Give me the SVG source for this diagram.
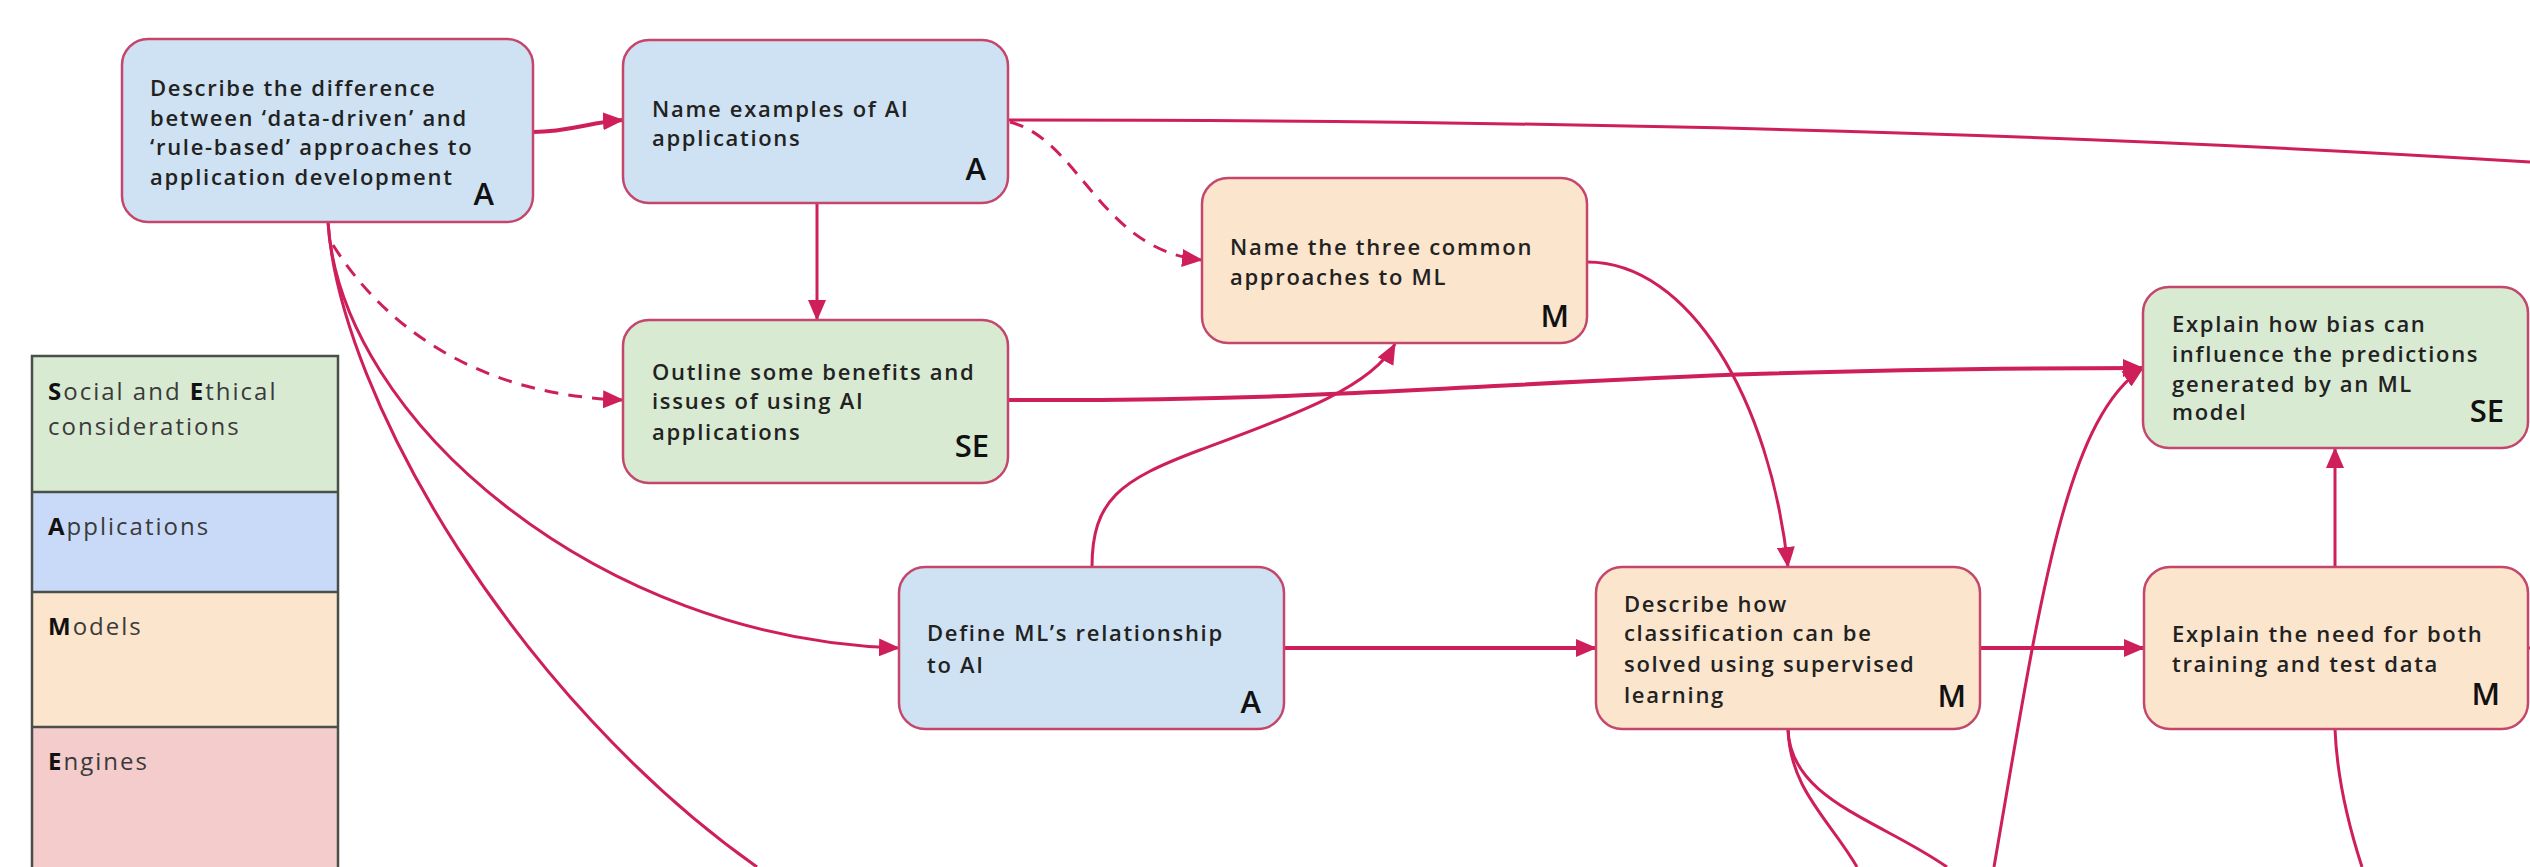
<svg xmlns="http://www.w3.org/2000/svg" width="2530" height="867" viewBox="0 0 2530 867">
<defs>
<marker id="ah" markerUnits="userSpaceOnUse" markerWidth="22" markerHeight="18" refX="20" refY="9" orient="auto">
<path d="M0,0 L21,9 L0,18 Z" fill="#cf1f5a"/>
</marker>
<style>
.node rect{stroke:#c4476b;stroke-width:2.5}
.blue{fill:#cfe2f3}.green{fill:#d9ead3}.orange{fill:#fce5cd}
.t{font-family:"Open Sans","Liberation Sans",sans-serif;font-size:22px;font-weight:600;fill:#222;letter-spacing:1.7px}
.tag{font-family:"Open Sans","Liberation Sans",sans-serif;font-size:31px;font-weight:600;fill:#111;text-anchor:end}
.lg{font-family:"Open Sans","Liberation Sans",sans-serif;font-size:24px;font-weight:400;fill:#3a3a3a;letter-spacing:2px}
.lg tspan.b{font-weight:700;fill:#111}
.c{fill:none;stroke:#cf1f5a;stroke-width:3}
.w{stroke-width:4}
.d{stroke-dasharray:14 10}
</style>
</defs>
<rect width="2530" height="867" fill="#ffffff"/>
<g id="legend">
<rect x="32" y="356" width="306" height="136" fill="#d9ead3"/>
<rect x="32" y="492" width="306" height="100" fill="#c9daf8"/>
<rect x="32" y="592" width="306" height="135" fill="#fce5cd"/>
<rect x="32" y="727" width="306" height="145" fill="#f4cccc"/>
<path d="M32,872 V356 H338 V872 M32,492 H338 M32,592 H338 M32,727 H338" fill="none" stroke="#4a4f4a" stroke-width="2.5"/>
<text class="lg" x="48" y="400"><tspan class="b">S</tspan>ocial and <tspan class="b">E</tspan>thical</text>
<text class="lg" x="48" y="435">considerations</text>
<text class="lg" x="48" y="535"><tspan class="b">A</tspan>pplications</text>
<text class="lg" x="48" y="635"><tspan class="b">M</tspan>odels</text>
<text class="lg" x="48" y="770"><tspan class="b">E</tspan>ngines</text>
</g>
<g id="connectors">
<path class="c w" d="M533,132 C570,132 590,122 623,120" marker-end="url(#ah)"/>
<path class="c" d="M817,203 L817,320" marker-end="url(#ah)"/>
<path class="c d" d="M1010,122 C1080,140 1100,250 1202,260" marker-end="url(#ah)"/>
<path class="c" d="M1008,120 C1600,120 2100,135 2530,162"/>
<path class="c d" d="M333,245 C380,320 470,395 623,400" marker-end="url(#ah)"/>
<path class="c" d="M328,222 C340,420 600,640 899,648" marker-end="url(#ah)"/>
<path class="c" stroke-width="2.5" d="M328,222 C340,400 520,700 757,867"/>
<path class="c w" d="M1008,400 C1450,402 1550,368 2143,368" marker-end="url(#ah)"/>
<path class="c" d="M1092,567 C1092,500 1120,480 1200,450 S1370,390 1395,344" marker-end="url(#ah)"/>
<path class="c" d="M1587,262 C1690,262 1770,400 1788,567" marker-end="url(#ah)"/>
<path class="c w" d="M1284,648 L1596,648" marker-end="url(#ah)"/>
<path class="c w" d="M1980,648 L2144,648" marker-end="url(#ah)"/>
<path class="c" d="M2335,567 L2335,448" marker-end="url(#ah)"/>
<path class="c" d="M1994,867 C2040,600 2065,420 2143,368" marker-end="url(#ah)"/>
<path class="c" d="M1788,729 C1790,790 1830,820 1857,867"/>
<path class="c" d="M1788,729 C1790,800 1880,820 1947,867"/>
<path class="c" d="M2335,729 C2337,780 2350,830 2362,867"/>
<path class="c" d="M2528,648 L2530,648"/>
</g>
<g id="n1" class="node">
<rect class="blue" x="122" y="39" width="411" height="183" rx="26"/>
<text class="t" x="150" y="96">Describe the difference</text>
<text class="t" x="150" y="126">between ‘data-driven’ and</text>
<text class="t" x="150" y="155">‘rule-based’ approaches to</text>
<text class="t" x="150" y="185">application development</text>
<text class="tag" x="494" y="205">A</text>
</g>
<g id="n2" class="node">
<rect class="blue" x="623" y="40" width="385" height="163" rx="26"/>
<text class="t" x="652" y="117">Name examples of AI</text>
<text class="t" x="652" y="146">applications</text>
<text class="tag" x="986" y="180">A</text>
</g>
<g id="n3" class="node">
<rect class="green" x="623" y="320" width="385" height="163" rx="26"/>
<text class="t" x="652" y="380">Outline some benefits and</text>
<text class="t" x="652" y="409">issues of using AI</text>
<text class="t" x="652" y="440">applications</text>
<text class="tag" x="989" y="457">SE</text>
</g>
<g id="n4" class="node">
<rect class="orange" x="1202" y="178" width="385" height="165" rx="26"/>
<text class="t" x="1230" y="255">Name the three common</text>
<text class="t" x="1230" y="285">approaches to ML</text>
<text class="tag" x="1569" y="327">M</text>
</g>
<g id="n5" class="node">
<rect class="blue" x="899" y="567" width="385" height="162" rx="26"/>
<text class="t" x="927" y="641">Define ML’s relationship</text>
<text class="t" x="927" y="673">to AI</text>
<text class="tag" x="1261" y="713">A</text>
</g>
<g id="n6" class="node">
<rect class="orange" x="1596" y="567" width="384" height="162" rx="26"/>
<text class="t" x="1624" y="612">Describe how</text>
<text class="t" x="1624" y="641">classification can be</text>
<text class="t" x="1624" y="672">solved using supervised</text>
<text class="t" x="1624" y="703">learning</text>
<text class="tag" x="1966" y="707">M</text>
</g>
<g id="n7" class="node">
<rect class="green" x="2143" y="287" width="385" height="161" rx="26"/>
<text class="t" x="2172" y="332">Explain how bias can</text>
<text class="t" x="2172" y="362">influence the predictions</text>
<text class="t" x="2172" y="392">generated by an ML</text>
<text class="t" x="2172" y="420">model</text>
<text class="tag" x="2504" y="422">SE</text>
</g>
<g id="n8" class="node">
<rect class="orange" x="2144" y="567" width="384" height="162" rx="26"/>
<text class="t" x="2172" y="642">Explain the need for both</text>
<text class="t" x="2172" y="672">training and test data</text>
<text class="tag" x="2500" y="705">M</text>
</g>
</svg>
